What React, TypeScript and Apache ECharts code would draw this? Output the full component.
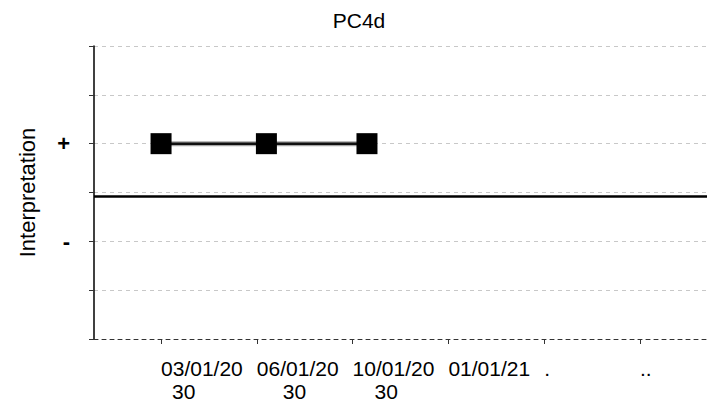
import React, { useEffect, useRef } from "react";
import * as echarts from "echarts";

const titleText = "PC4d";
const yAxisName = "Interpretation";
const tickPositions = [0, 1, 2, 3, 4, 5];
const tickDates = ["03/01/20", "06/01/20", "10/01/20", "01/01/21", ".", ".."];
const tickDateTails = ["30", "30", "30", "", "", ""];
const pointX = [0, 1.1, 2.15];
const pointY = [1, 1, 1];
const yLabels: Record<string, string> = { "1": "+", "-1": "-" };
const referenceY = -0.08;

export default function App() {
  const ref = useRef<HTMLDivElement>(null);
  useEffect(() => {
    if (!ref.current) return;
    const chart = echarts.init(ref.current, undefined, { renderer: "svg" });
    const font = "Liberation Sans, Arial, sans-serif";
    const tailPad = [11, 26, 22, 0, 0, 0];
    const rich: any = {
      d: { fontSize: 21, fontFamily: font, color: "#000", lineHeight: 23 },
    };
    tailPad.forEach((p, i) => {
      rich["t" + i] = {
        fontSize: 21,
        fontFamily: font,
        color: "#000",
        lineHeight: 23,
        padding: [0, 0, 0, p],
      };
    });
    const seriesData = pointX.map((x, i) => [x, pointY[i]]);
    chart.setOption({
      animation: false,
      backgroundColor: "#fff",
      title: {
        text: titleText,
        left: "center",
        top: 5,
        textStyle: { fontSize: 21, fontWeight: "normal", color: "#000", fontFamily: font },
      },
      grid: { left: 94, right: 11, top: 46, bottom: 64, containLabel: false },
      xAxis: {
        type: "value",
        min: -0.7,
        max: 5.7,
        axisLine: { show: true, onZero: false, lineStyle: { color: "#333", type: [4, 4], width: 1 } },
        axisTick: {
          show: true,
          customValues: tickPositions,
          length: 5,
          lineStyle: { color: "#333" },
        },
        splitLine: { show: false },
        axisLabel: {
          customValues: tickPositions,
          align: "left",
          margin: 18,
          fontSize: 21,
          fontFamily: font,
          color: "#000",
          lineHeight: 23,
          formatter: (v: number) => {
            const i = tickPositions.indexOf(Math.round(v));
            if (i < 0) return "";
            const tail = tickDateTails[i];
            return "{d|" + tickDates[i] + "}" + (tail ? "\n{t" + i + "|" + tail + "}" : "");
          },
          rich,
        },
      },
      yAxis: {
        type: "value",
        min: -3,
        max: 3,
        interval: 1,
        name: yAxisName,
        nameLocation: "middle",
        nameGap: 56,
        nameRotate: 90,
        nameTextStyle: { fontSize: 22, fontFamily: font, color: "#000" },
        axisLine: { show: true, onZero: false, lineStyle: { color: "#000", width: 1.5 } },
        axisTick: { show: true, length: 5, lineStyle: { color: "#333" } },
        splitLine: { show: true, lineStyle: { color: "#c8c8c8", type: [4, 4], width: 1 } },
        axisLabel: {
          margin: 24,
          fontSize: 22,
          fontWeight: "bold",
          fontFamily: font,
          color: "#000",
          formatter: (v: number) => yLabels[String(v)] || "",
        },
      },
      series: [
        {
          type: "line",
          data: seriesData,
          symbol: "none",
          silent: true,
          lineStyle: { color: "rgba(0,0,0,0.35)", width: 5 },
          z: 1,
        },
        {
          type: "line",
          data: seriesData,
          symbol: "rect",
          symbolSize: 21,
          itemStyle: { color: "#000" },
          lineStyle: { color: "#111", width: 2.5 },
          z: 2,
          markLine: {
            silent: true,
            symbol: "none",
            label: { show: false },
            lineStyle: { color: "#000", width: 2.5, type: "solid" },
            data: [{ yAxis: referenceY }],
          },
        },
      ],
    });
    return () => chart.dispose();
  }, []);
  return (
    <div
      ref={ref}
      style={{ position: "absolute", left: 0, top: 0, width: 718, height: 403 }}
    />
  );
}
